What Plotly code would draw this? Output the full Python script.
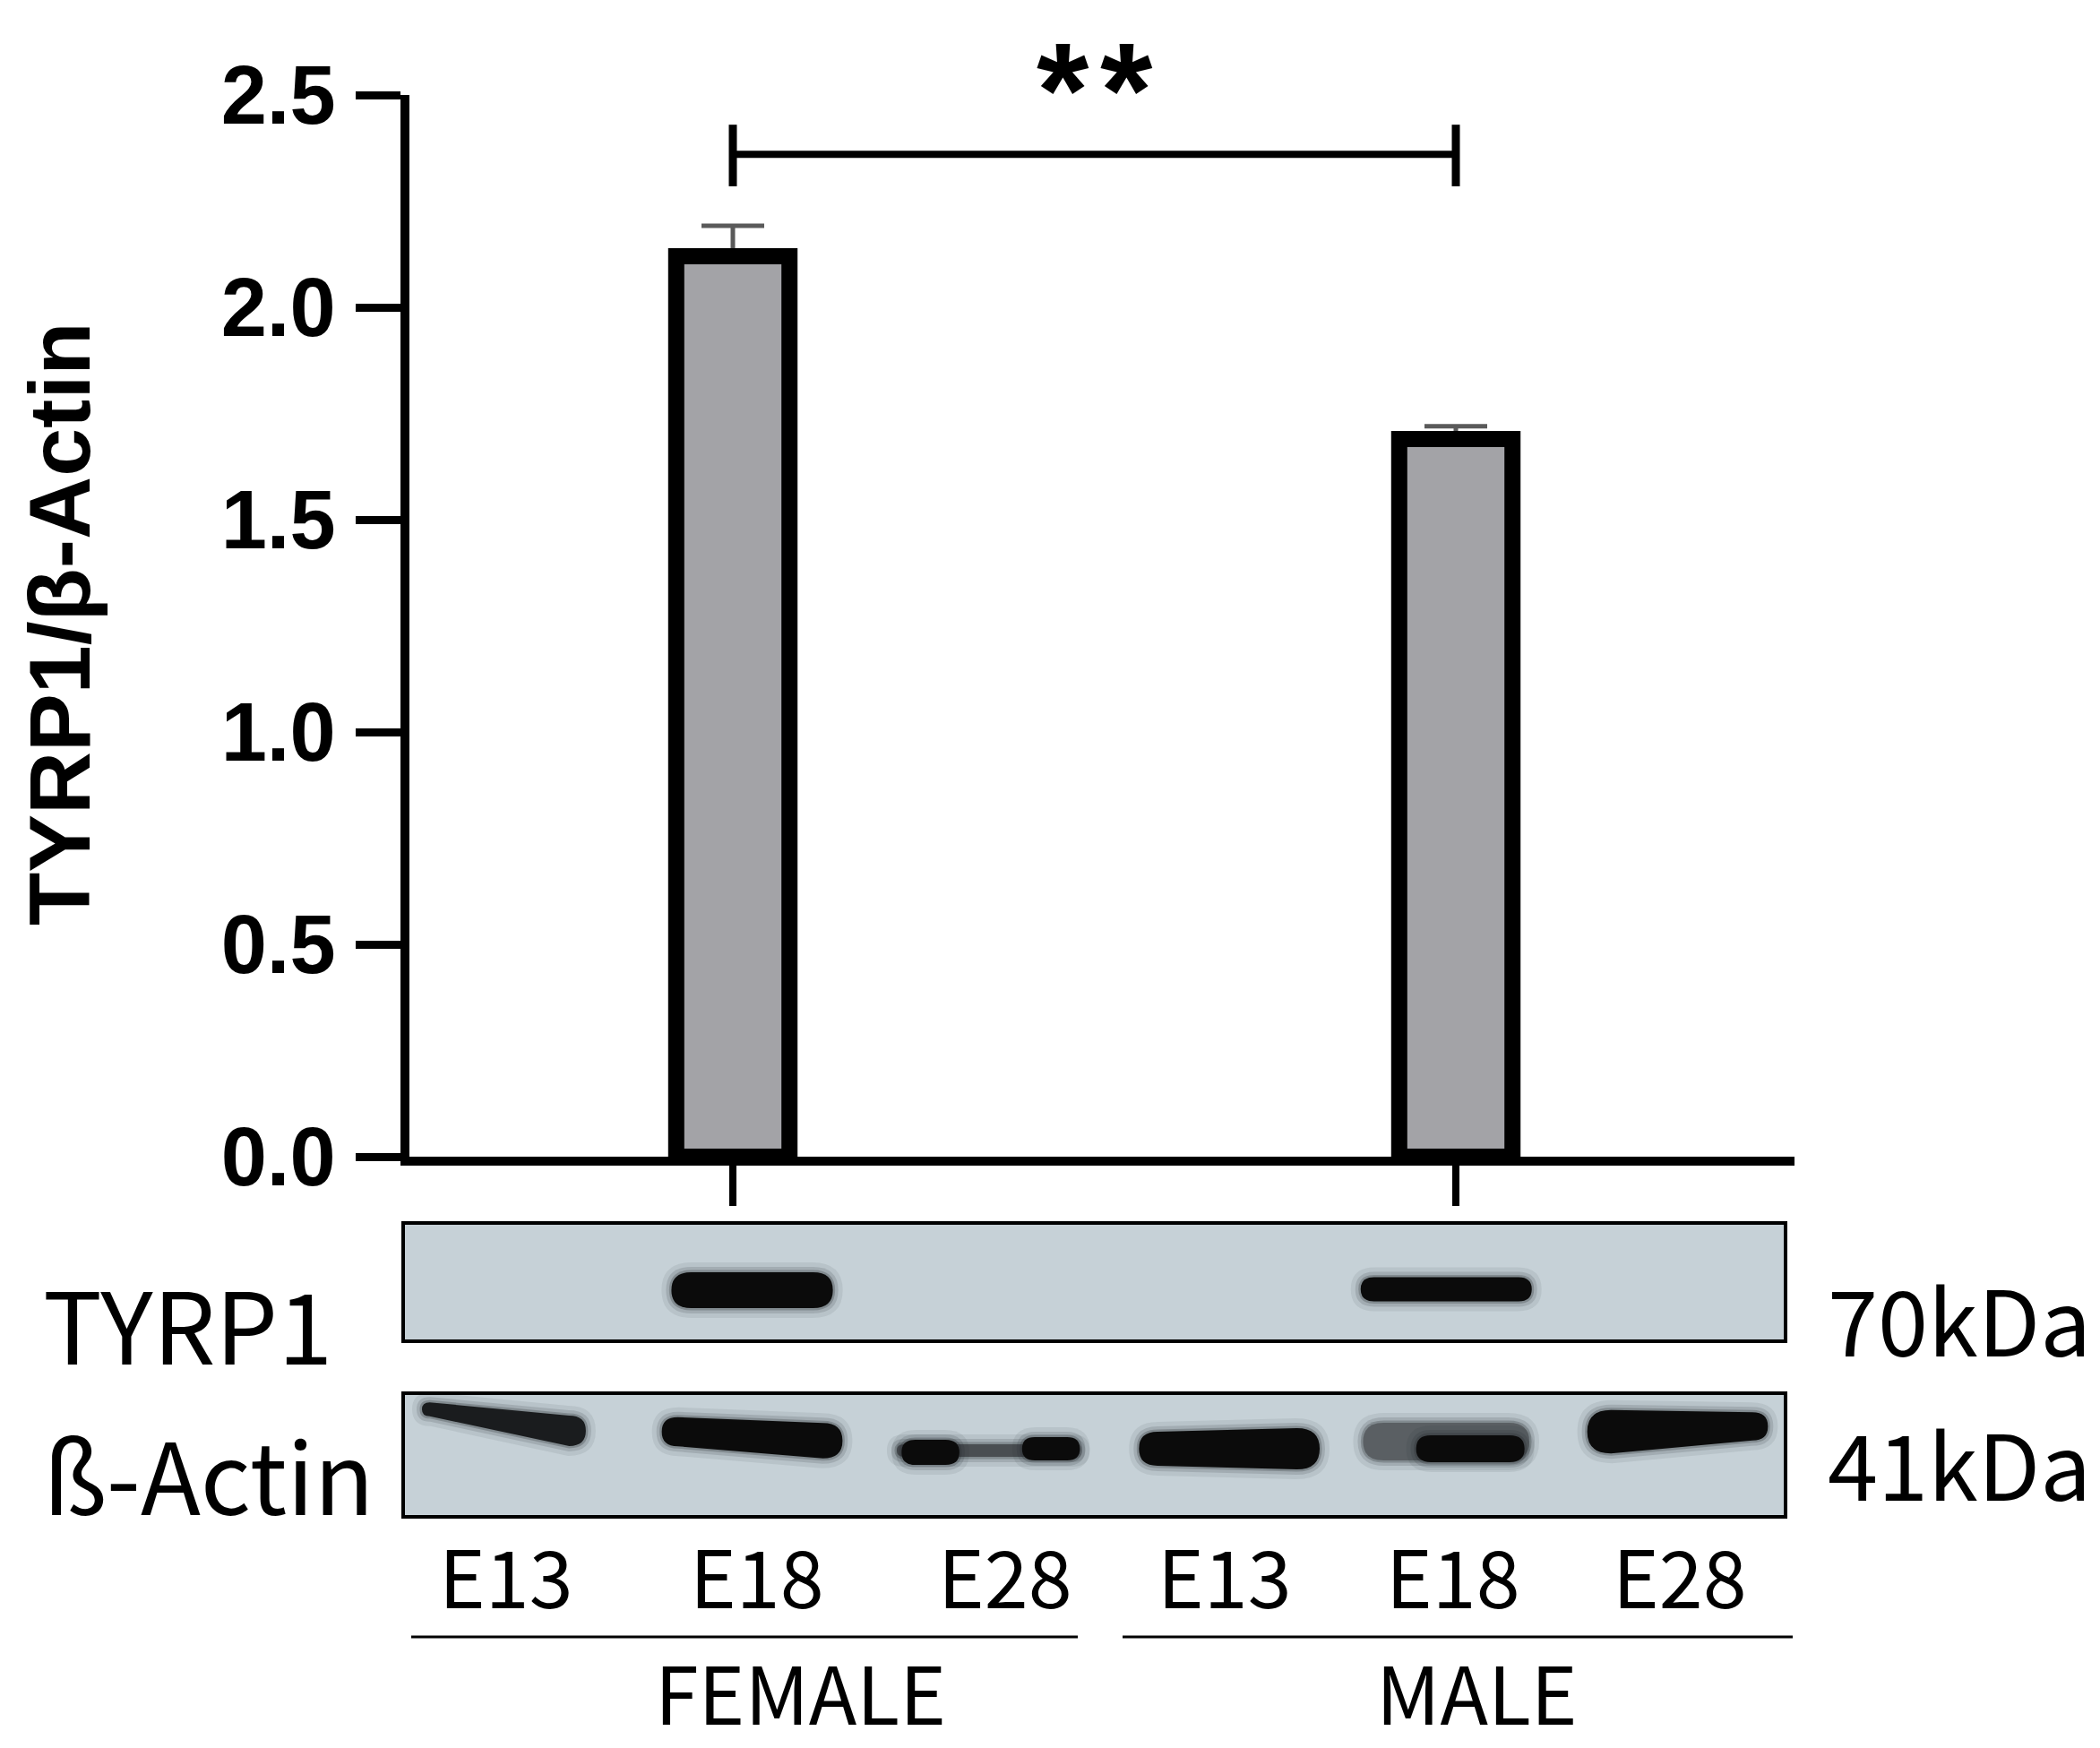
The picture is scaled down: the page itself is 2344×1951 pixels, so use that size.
import plotly.graph_objects as go

W, H = 2344, 1951

# ---------------- data ----------------
lanes = ["E13", "E18", "E28", "E13", "E18", "E28"]
groups = ["FEMALE", "MALE"]
bar_lanes = [1, 4]                 # quantified lanes (E18 female / E18 male)
bar_values = [2.12, 1.69]
bar_errors = [0.072, 0.03]
y_ticks = [0.0, 0.5, 1.0, 1.5, 2.0, 2.5]
y_title = "TYRP1/β-Actin"
sig_pair = [1, 4]
sig_text = "*\u200a*"
sig_level = 2.36

blot_rows = ["TYRP1", "ß-Actin"]
blot_sizes = ["70kDa", "41kDa"]
lane_pos = [0.05, 1.08, 2.06, 3.06, 3.96, 4.92]
lane_label_pos = [0.06, 1.10, 2.13, 3.04, 3.99, 4.93]

# band signal per lane (relative width, thickness px, vertical offset px)
tyrp1_width = [0, 0.67, 0, 0, 0.71, 0]
tyrp1_thick = [0, 40, 0, 0, 27, 0]
tyrp1_shift = [0, 0, 0, 0, -1, 0]
actin_width = [0.68, 0.75, 0.76, 0.75, 0.69, 0.75]
actin_thick = [26, 36, 14, 42, 42, 42]
actin_shift = [-20, -2, 14, 12, 4, -10]
actin_slope = [24, 10, 0, 0, 4, -6]

# ---------------- geometry helpers ----------------
X0PX, UPX = 549.0, 269.0   # px of lane 0, px per lane


def xu(px):
    return (px - X0PX) / UPX


def yp(px):
    return 1 - px / H


Y0PX, Y25PX = 1291.0, 106.0
XA0, XA1 = 457.0, 2003.0

fig = go.Figure()

# error bars carried by a transparent bar drawn first (so the lower cap hides under the border)
fig.add_trace(go.Bar(
    x=bar_lanes, y=bar_values, width=0.47,
    marker=dict(color="rgba(0,0,0,0)", line=dict(width=0)),
    error_y=dict(type="data", array=bar_errors, arrayminus=[0] * len(bar_errors),
                 symmetric=False, color="#5a5a5a", thickness=5, width=35),
    showlegend=False, hoverinfo="skip",
))
fig.add_trace(go.Bar(
    x=bar_lanes, y=bar_values, width=0.47,
    marker=dict(color="#A3A3A7", line=dict(color="black", width=18)),
    showlegend=False, hoverinfo="skip",
))

# overlay axes for the blot (full figure)
fig.add_trace(go.Scatter(x=[0], y=[0], xaxis="x2", yaxis="y2", mode="markers",
                         marker=dict(opacity=0), showlegend=False, hoverinfo="skip"))

shapes = []
# significance bracket
for xv in sig_pair:
    shapes.append(dict(type="line", xref="x", yref="y", x0=xv, x1=xv,
                       y0=sig_level - 0.075, y1=sig_level + 0.07,
                       line=dict(color="black", width=9)))
shapes.append(dict(type="line", xref="x", yref="y", x0=sig_pair[0], x1=sig_pair[1],
                   y0=sig_level, y1=sig_level, line=dict(color="black", width=8)))

# blot panels
row_box = [(1365, 1497), (1555, 1693)]
row_center = [1440, 1605]
for (t, b) in row_box:
    shapes.append(dict(type="rect", xref="paper", yref="paper",
                       x0=450 / W, x1=1993 / W, y0=yp(b), y1=yp(t),
                       fillcolor="#C6D1D7", line=dict(color="black", width=4),
                       layer="above"))


def band_path(cx_px, w_px, cy_px, h_l, h_r, slope):
    xl, xr = cx_px - w_px / 2, cx_px + w_px / 2
    yl, yr = cy_px - slope / 2, cy_px + slope / 2
    hl, hr = h_l / 2, h_r / 2
    rl, rr = hl * 1.1, hr * 1.1
    pts = [("M", xl + rl, yl - hl), ("L", xr - rr, yr - hr),
           ("Q", xr, yr - hr, xr, yr), ("Q", xr, yr + hr, xr - rr, yr + hr),
           ("L", xl + rl, yl + hl), ("Q", xl, yl + hl, xl, yl),
           ("Q", xl, yl - hl, xl + rl, yl - hl)]
    s = ""
    for p in pts:
        cmd, coords = p[0], p[1:]
        parts = []
        for i in range(0, len(coords), 2):
            parts.append("%.5f,%.5f" % (xu(coords[i]), yp(coords[i + 1])))
        s += cmd + " ".join(parts) + " "
    return s + "Z"


def add_band(lane, wfrac, thick_l, thick_r, shift, slope, row, color="#0b0b0b", dx=0.0):
    cx = X0PX + UPX * (lane_pos[lane] + dx)
    w = wfrac * UPX
    cy = row_center[row] + shift
    for grow, alpha in ((22, 0.08), (12, 0.14), (5, 0.25)):
        shapes.append(dict(type="path", xref="x2", yref="y2",
                           path=band_path(cx, w + grow, cy, thick_l + grow, thick_r + grow, slope),
                           fillcolor="rgba(30,35,40,%.2f)" % alpha, line=dict(width=0),
                           layer="above"))
    shapes.append(dict(type="path", xref="x2", yref="y2",
                       path=band_path(cx, w, cy, thick_l, thick_r, slope),
                       fillcolor=color, line=dict(width=0), layer="above"))


for i in range(6):
    if tyrp1_width[i] > 0:
        add_band(i, tyrp1_width[i], tyrp1_thick[i], tyrp1_thick[i], tyrp1_shift[i], 0, 0)

for i in range(6):
    th = actin_thick[i]
    if i == 0:
        add_band(i, actin_width[i], th * 0.6, th * 1.3, actin_shift[i], actin_slope[i], 1, color="#1a1c1e")
    elif i == 2:
        add_band(i, actin_width[i], th, th, actin_shift[i], 0, 1, color="#4a4e52")
        add_band(i, 0.24, 28, 28, actin_shift[i] + 2, 0, 1, dx=-0.24)
        add_band(i, 0.24, 26, 26, actin_shift[i] - 2, 0, 1, dx=0.26)
    elif i == 4:
        add_band(i, actin_width[i], th, th, actin_shift[i], 0, 1, color="#5a5f63")
        add_band(i, 0.45, 30, 30, actin_shift[i] + 8, 0, 1, dx=0.1)
    elif i == 5:
        add_band(i, actin_width[i], th * 1.15, th * 0.75, actin_shift[i], actin_slope[i], 1)
    else:
        add_band(i, actin_width[i], th * 0.9, th * 1.1, actin_shift[i], actin_slope[i], 1)

# group underlines
group_line_px = [(459, 1203), (1253, 2001)]
for (a, b) in group_line_px:
    shapes.append(dict(type="line", xref="paper", yref="paper", x0=a / W, x1=b / W,
                       y0=yp(1827), y1=yp(1827), line=dict(color="black", width=3)))

annotations = []
# y title
annotations.append(dict(text="<b>%s</b>" % y_title, xref="paper", yref="paper",
                        x=66 / W, y=yp(696), textangle=-90, showarrow=False,
                        font=dict(family="Liberation Sans, Arial", size=97, color="black"),
                        xanchor="center", yanchor="middle"))
# significance stars
annotations.append(dict(text="<b>%s</b>" % sig_text, xref="x", yref="paper",
                        x=(sig_pair[0] + sig_pair[1]) / 2, y=yp(101), showarrow=False,
                        font=dict(family="Liberation Sans, Arial", size=150, color="black"),
                        xanchor="center", yanchor="middle"))
cjk = "Noto Sans CJK SC, Noto Sans, sans-serif"
# blot row labels
row_label_y = [1475, 1643]
for lab, yy in zip(blot_rows, row_label_y):
    annotations.append(dict(text=lab, xref="paper", yref="paper", x=46 / W, y=yp(yy),
                            showarrow=False, xanchor="left", yanchor="middle",
                            font=dict(family=cjk, size=110, color="black")))
size_label_y = [1470, 1631]
for lab, yy in zip(blot_sizes, size_label_y):
    annotations.append(dict(text=lab, xref="paper", yref="paper", x=2038 / W, y=yp(yy),
                            showarrow=False, xanchor="left", yanchor="middle",
                            font=dict(family=cjk, size=101, color="black")))
# lane labels
for lab, xv in zip(lanes, lane_label_pos):
    annotations.append(dict(text=lab, xref="x2", yref="paper", x=xv, y=yp(1756),
                            showarrow=False, xanchor="center", yanchor="middle",
                            font=dict(family=cjk, size=88, color="black")))
# group labels
group_label_x = [893, 1649]
for lab, xv in zip(groups, group_label_x):
    annotations.append(dict(text=lab, xref="paper", yref="paper", x=xv / W, y=yp(1886),
                            showarrow=False, xanchor="center", yanchor="middle",
                            font=dict(family=cjk, size=88, color="black")))

fig.update_layout(
    width=W, height=H,
    margin=dict(l=0, r=0, t=0, b=0, autoexpand=False),
    paper_bgcolor="white", plot_bgcolor="rgba(0,0,0,0)",
    barmode="overlay",
    xaxis=dict(domain=[XA0 / W, XA1 / W], range=[xu(XA0), xu(XA1)],
               showline=True, linecolor="black", linewidth=10,
               ticks="outside", tickvals=bar_lanes, ticklen=45, tickwidth=8,
               tickcolor="black", showticklabels=False, showgrid=False, zeroline=False,
               automargin=False, fixedrange=True),
    yaxis=dict(domain=[yp(Y0PX), yp(Y25PX)], range=[0, 2.5],
               showline=True, linecolor="black", linewidth=10,
               ticks="outside", tickvals=y_ticks, ticktext=["%.1f" % v for v in y_ticks],
               ticklen=50, tickwidth=9, tickcolor="black",
               tickfont=dict(family="Liberation Sans, Arial", size=92, color="black",
                             weight="bold"),
               ticklabelstandoff=4, automargin=False,
               showgrid=False, zeroline=False, fixedrange=True),
    xaxis2=dict(domain=[0, 1], range=[xu(0), xu(W)], anchor="y2", visible=False,
                automargin=False, fixedrange=True),
    yaxis2=dict(domain=[0, 1], range=[0, 1], anchor="x2", visible=False,
                automargin=False, fixedrange=True),
    shapes=shapes,
    annotations=annotations,
)

fig.write_html("out.html", config={"displayModeBar": False},
               post_script="document.body.style.margin='0';")
